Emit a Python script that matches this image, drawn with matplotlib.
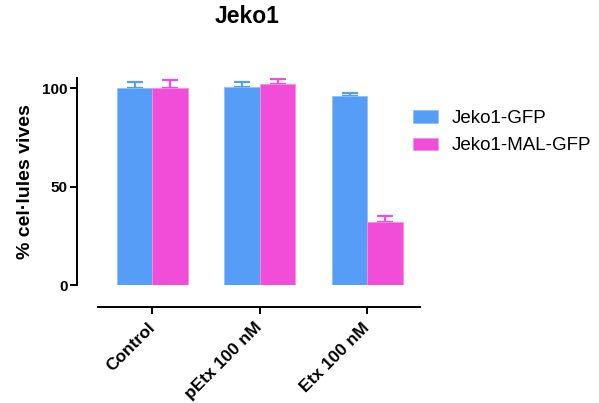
import matplotlib
matplotlib.use("Agg")
import matplotlib.pyplot as plt
import numpy as np

plt.rcParams["font.family"] = ["Liberation Sans", "DejaVu Sans"]

groups = ["Control", "pEtx 100 nM", "Etx 100 nM"]
gfp = [100, 100.5, 96]
gfp_err = [3, 2.5, 1.5]
mal = [100, 102, 32]
mal_err = [4, 2.5, 3]
series_names = ["Jeko1-GFP", "Jeko1-MAL-GFP"]
yticks = [0, 50, 100]

blue = "#559DF7"
pink = "#F24DD8"

fig = plt.figure(figsize=(5.99, 4.03), dpi=100)
ax = fig.add_axes([0.1636, 0.2928, 0.5376, 0.513])

x = np.arange(len(groups))
w = 0.33
zeros = [0] * len(groups)
ax.bar(x - w / 2, gfp, w, color=blue, edgecolor="#8fc0fa", linewidth=0.6,
       label=series_names[0], zorder=2)
ax.bar(x + w / 2, mal, w, color=pink, edgecolor="#f590e6", linewidth=0.6,
       label=series_names[1], zorder=2)
ax.errorbar(x - w / 2, gfp, yerr=[zeros, gfp_err], fmt="none", ecolor=blue,
            elinewidth=1.6, capsize=6, capthick=1.6, zorder=1)
ax.errorbar(x + w / 2, mal, yerr=[zeros, mal_err], fmt="none", ecolor=pink,
            elinewidth=1.6, capsize=6, capthick=1.6, zorder=1)

# spines first: set_position resets the tick labels
ax.spines["top"].set_visible(False)
ax.spines["right"].set_visible(False)
ax.spines["left"].set_position(("outward", 15))
ax.spines["bottom"].set_position(("outward", 16))
ax.spines["left"].set_linewidth(1.4)
ax.spines["bottom"].set_linewidth(1.4)

ax.set_xlim(-0.507, 2.49)
ax.set_ylim(0, 105)
ax.set_yticks(yticks)
ax.set_yticklabels([str(v) for v in yticks], fontweight="bold", fontsize=11)
ax.set_xticks(x)
ax.set_xticklabels(groups, rotation=45, ha="right", va="center",
                   rotation_mode="anchor", fontweight="bold", fontsize=12.5)
ax.tick_params(axis="both", length=5, width=1.4)
ax.tick_params(axis="y", pad=2)
ax.tick_params(axis="x", pad=8)

ax.set_ylabel("% cel·lules vives", fontweight="bold", fontsize=14, labelpad=6)
fig.text(0.412, 0.96, "Jeko1", ha="center", va="center", fontweight="bold",
         fontsize=16.5)

fig.legend(loc="upper left", bbox_to_anchor=(413 / 599, 0.727), frameon=False,
           fontsize=13.5, handlelength=1.33, handleheight=0.64,
           handletextpad=0.75, labelspacing=0.55, borderpad=0,
           borderaxespad=0)

fig.savefig("out.png", dpi=100)
